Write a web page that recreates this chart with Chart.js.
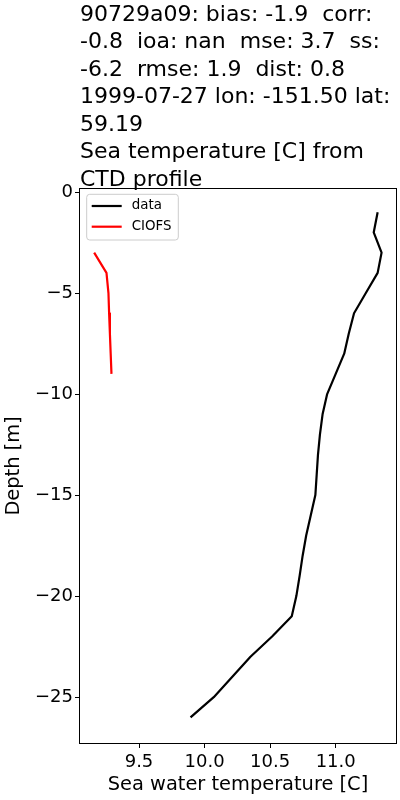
<!DOCTYPE html>
<html>
<head>
<meta charset="utf-8">
<script src="https://cdn.jsdelivr.net/npm/chart.js@4.4.1/dist/chart.umd.min.js"></script>
<style>
    html, body { margin: 0; padding: 0; background: #fff; }
    canvas { display: block; }
</style>
</head>
<body>
<canvas id="profileChart" width="400" height="800"></canvas>
<script>
// title text, one entry per line
const titleLines = [
    '90729a09: bias: -1.9  corr:',
    '-0.8  ioa: nan  mse: 3.7  ss:',
    '-6.2  rmse: 1.9  dist: 0.8',
    '1999-07-27 lon: -151.50 lat:',
    '59.19',
    'Sea temperature [C] from',
    'CTD profile'
];

// observed CTD profile
const dataDepths = [-1, -2, -3, -4, -5, -6, -7, -8, -9, -10, -11, -12, -13,
    -14, -15, -16, -17, -18, -19, -20, -21, -22, -23, -24, -25, -26];
const dataTemps = [11.32, 11.29, 11.35, 11.32, 11.23, 11.14, 11.10, 11.065, 11.00, 10.935, 10.90, 10.88, 10.865,
    10.855, 10.845, 10.81, 10.775, 10.748, 10.725, 10.70, 10.665, 10.515, 10.35, 10.21, 10.07, 9.893];

// model (CIOFS) profile
const modelDepths = [-3, -4, -5, -6, -7, -8, -9];
const modelTemps = [9.158, 9.252, 9.267, 9.272, 9.278, 9.284, 9.29];

const xTickValues = [9.5, 10.0, 10.5, 11.0];
const yTickValues = [0, -5, -10, -15, -20, -25];

const FONT = '"DejaVu Sans", "Liberation Sans", sans-serif';
Chart.defaults.font.family = FONT;
Chart.defaults.color = '#000';

function toPoints(xs, ys) {
    return ys.map((y, i) => ({ x: xs[i], y: y }));
}

// title block, frame and boxed legend, matplotlib style
const decorations = {
    id: 'decorations',
    afterDraw(chart) {
        const ctx = chart.ctx, area = chart.chartArea;
        ctx.save();

        // frame around the axes
        ctx.strokeStyle = '#000';
        ctx.lineWidth = 1;
        ctx.strokeRect(Math.round(area.left) - 0.5, Math.round(area.top) - 0.5,
            Math.round(area.right - area.left) + 1, Math.round(area.bottom - area.top) + 1);

        // title
        ctx.fillStyle = '#000';
        ctx.font = '22px ' + FONT;
        ctx.textAlign = 'left';
        ctx.textBaseline = 'alphabetic';
        const lh = 27.5;
        titleLines.forEach((t, i) => {
            ctx.fillText(t, area.left, area.top - 3.5 - (titleLines.length - 1 - i) * lh);
        });

        // legend
        const bx = area.left + 6.7, by = area.top + 5.3, bw = 91.6, bh = 45.7, r = 3;
        ctx.beginPath();
        ctx.moveTo(bx + r, by);
        ctx.arcTo(bx + bw, by, bx + bw, by + bh, r);
        ctx.arcTo(bx + bw, by + bh, bx, by + bh, r);
        ctx.arcTo(bx, by + bh, bx, by, r);
        ctx.arcTo(bx, by, bx + bw, by, r);
        ctx.closePath();
        ctx.fillStyle = 'rgba(255,255,255,0.8)';
        ctx.fill();
        ctx.strokeStyle = '#cccccc';
        ctx.lineWidth = 1;
        ctx.stroke();

        ctx.font = '13.4px ' + FONT;
        ctx.textBaseline = 'middle';
        chart.data.datasets.forEach((ds, i) => {
            const y = by + 11.7 + i * 20.7;
            ctx.beginPath();
            ctx.moveTo(bx + 5, y);
            ctx.lineTo(bx + 35, y);
            ctx.strokeStyle = ds.borderColor;
            ctx.lineWidth = 2.2;
            ctx.stroke();
            ctx.fillStyle = '#000';
            ctx.fillText(ds.label, bx + 45, y);
        });
        ctx.restore();
    }
};

const profileChart = new Chart(document.getElementById('profileChart'), {
    type: 'scatter',
    data: {
        datasets: [{
            label: 'data',
            data: toPoints(dataTemps, dataDepths),
            showLine: true,
            borderColor: '#000000',
            backgroundColor: '#000000',
            borderWidth: 2.2,
            borderJoinStyle: 'round',
            pointRadius: 0,
            tension: 0
        }, {
            label: 'CIOFS',
            data: toPoints(modelTemps, modelDepths),
            showLine: true,
            borderColor: '#ff0000',
            backgroundColor: '#ff0000',
            borderWidth: 2.2,
            borderJoinStyle: 'round',
            pointRadius: 0,
            tension: 0
        }]
    },
    options: {
        responsive: false,
        animation: false,
        layout: { padding: { top: 189, right: 4, left: 0, bottom: 0 } },
        plugins: {
            legend: { display: false },
            title: { display: false },
            tooltip: { enabled: false }
        },
        scales: {
            x: {
                type: 'linear',
                min: 9.05,
                max: 11.46,
                afterBuildTicks: (s) => { s.ticks = xTickValues.map(v => ({ value: v })); },
                afterFit: (s) => { s.height = 57; },
                grid: { drawOnChartArea: false, drawTicks: true, tickLength: 5, color: '#000' },
                border: { display: false },
                ticks: {
                    padding: 4,
                    maxRotation: 0,
                    font: { size: 18 },
                    callback: (v) => Number(v).toFixed(1)
                },
                title: {
                    display: true,
                    text: 'Sea water temperature [C]',
                    font: { size: 19.4 },
                    padding: { top: 0, bottom: 3 }
                }
            },
            y: {
                type: 'linear',
                min: -27.27,
                max: 0.15,
                afterBuildTicks: (s) => { s.ticks = yTickValues.map(v => ({ value: v })); },
                afterFit: (s) => { s.width = 80; },
                grid: { drawOnChartArea: false, drawTicks: true, tickLength: 5, color: '#000' },
                border: { display: false },
                ticks: {
                    padding: 2,
                    font: { size: 18 },
                    callback: (v) => v < 0 ? '\u2212' + Math.abs(v) : String(v)
                },
                title: {
                    display: true,
                    text: 'Depth [m]',
                    font: { size: 19.4 },
                    padding: { top: 2, bottom: 0 }
                }
            }
        }
    },
    plugins: [decorations]
});
</script>
</body>
</html>
